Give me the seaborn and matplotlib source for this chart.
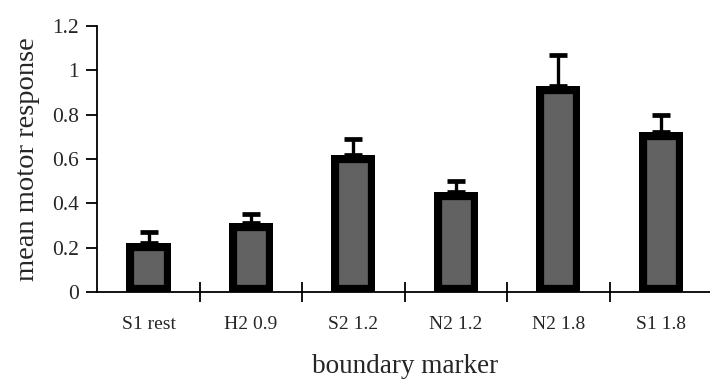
import matplotlib
matplotlib.use("Agg")
import matplotlib.pyplot as plt
import seaborn as sns
import pandas as pd
import numpy as np

markers = ["S1 rest", "H2 0.9", "S2 1.2", "N2 1.2", "N2 1.8", "S1 1.8"]
mean_response = [0.22, 0.31, 0.62, 0.45, 0.93, 0.72]
error_upper = [0.05, 0.04, 0.07, 0.05, 0.14, 0.08]
y_ticks = [0, 0.2, 0.4, 0.6, 0.8, 1.0, 1.2]
y_tick_labels = ["0", "0.2", "0.4", "0.6", "0.8", "1", "1.2"]

sns.set_style("white")
plt.rcParams["font.family"] = ["Liberation Serif", "DejaVu Serif"]

df = pd.DataFrame({"marker": markers, "response": mean_response})

fig = plt.figure(figsize=(7.10, 3.79), dpi=100)
ax = fig.add_axes([0.137, 0.2296, 0.866, 0.7018])

sns.barplot(data=df, x="marker", y="response", order=markers, ax=ax,
            color="#626262", edgecolor="black", linewidth=11,
            width=0.43, errorbar=None, saturation=1)

# keep the heavy outline inside each bar so the outer edge sits on the value
for bar in ax.patches:
    bar.set_clip_path(bar)
    bar.set_zorder(2)

# upper error bars, drawn from the bar top upwards
xs = np.arange(len(markers))
ax.errorbar(xs, mean_response, yerr=[np.zeros(len(markers)), error_upper],
            fmt="none", ecolor="black", elinewidth=2.4, capsize=6.5, capthick=3.4,
            zorder=4)

ax.set_xlim(-0.5, 5.5)
ax.set_ylim(0, 1.2)
ax.set_yticks(y_ticks)
ax.set_yticklabels(y_tick_labels, fontsize=15.5)

# category labels under the bars, tick marks between them crossing the axis
ax.set_xticks(xs)
ax.set_xticklabels(markers, fontsize=14)
ax.tick_params(axis="x", which="major", length=0, pad=17)
ax.set_xticks(np.arange(0.5, len(markers) - 0.4, 1), minor=True)
ax.tick_params(axis="x", which="minor", bottom=True, direction="inout",
               length=15, width=1.3, color="black")
ax.tick_params(axis="y", direction="out", length=8, width=1.3, color="black",
               pad=5, left=True)

for side in ["top", "right"]:
    ax.spines[side].set_visible(False)
for side in ["left", "bottom"]:
    ax.spines[side].set_color("black")
    ax.spines[side].set_linewidth(1.3)
    ax.spines[side].set_zorder(4)

ax.set_xlabel("boundary marker", fontsize=19.5, labelpad=15.5)
ax.set_ylabel("mean motor response", fontsize=20.5, labelpad=9)

fig.savefig("out.png", dpi=100)
